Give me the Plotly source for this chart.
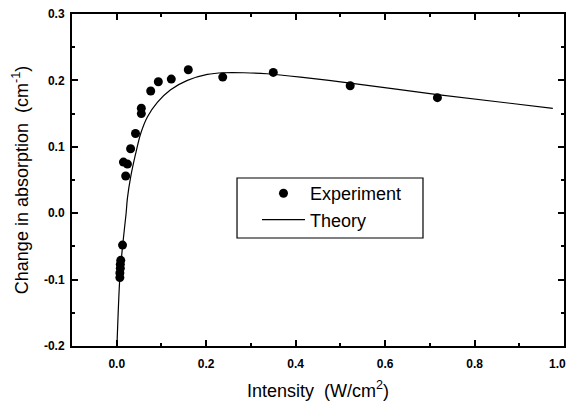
import plotly.graph_objects as go

# Experiment data (intensity W/cm^2, change in absorption cm^-1)
exp_x = [0.007, 0.007, 0.008, 0.008, 0.009, 0.013, 0.015, 0.020, 0.024, 0.031, 0.042,
         0.055, 0.055, 0.076, 0.093, 0.122, 0.160, 0.237, 0.350, 0.522, 0.717]
exp_y = [-0.097, -0.090, -0.083, -0.077, -0.071, -0.048, 0.077, 0.056, 0.074, 0.097, 0.120,
         0.158, 0.150, 0.184, 0.198, 0.202, 0.216, 0.205, 0.212, 0.192, 0.174]

# Theory curve
th_x = [0.0005, 0.0067, 0.013, 0.021, 0.0238, 0.0313, 0.0424, 0.0536, 0.0685, 0.0908,
        0.1205, 0.158, 0.2025, 0.2396, 0.284, 0.336, 0.411, 0.522, 0.717, 0.975]
th_y = [-0.200, -0.100, -0.050, 0.000, 0.022, 0.055, 0.090, 0.120, 0.145, 0.167,
        0.186, 0.200, 0.209, 0.2115, 0.2115, 0.210, 0.205, 0.196, 0.1785, 0.158]

x_ticks = [0.0, 0.2, 0.4, 0.6, 0.8, 1.0]
# the last label sits slightly left of its tick in the original, kept inside the page
x_tick_labels = ["0.0", "0.2", "0.4", "0.6", "0.8", "1.0\u00a0\u00a0\u00a0\u00a0"]
y_ticks = [-0.2, -0.1, 0.0, 0.1, 0.2, 0.3]
y_tick_labels = ["-0.2", "-0.1", "0.0", "0.1", "0.2", "0.3"]

FONT = "Liberation Sans, Arial, Helvetica, sans-serif"

fig = go.Figure()
fig.add_trace(go.Scatter(x=exp_x, y=exp_y, mode="markers", name="Experiment",
                         marker=dict(color="black", size=9, symbol="circle")))
fig.add_trace(go.Scatter(x=th_x, y=th_y, mode="lines", name="Theory",
                         line=dict(color="black", width=1.2, shape="spline", smoothing=0.8)))

axis_common = dict(showgrid=False, zeroline=False, showline=True, linecolor="black",
                   linewidth=2, mirror="ticks", ticks="inside", ticklen=6, tickwidth=1.5,
                   tickcolor="black", automargin=False, ticklabeloverflow="allow",
                   tickfont=dict(family=FONT, size=12, color="black", weight="bold"))

fig.update_xaxes(range=[-0.1, 1.0], tickvals=x_ticks, ticktext=x_tick_labels,
                 minor=dict(dtick=0.1, tick0=0, ticks="inside", ticklen=3, tickwidth=1.5,
                            tickcolor="black"),
                 ticklabelstandoff=6,
                 title=dict(text="Intensity  (W/cm<sup>2</sup>)", standoff=14,
                            font=dict(family=FONT, size=18, color="black")),
                 **axis_common)
fig.update_yaxes(range=[-0.2, 0.3], tickvals=y_ticks, ticktext=y_tick_labels,
                 minor=dict(dtick=0.05, tick0=0, ticks="inside", ticklen=3, tickwidth=1.5,
                            tickcolor="black"),
                 ticklabelstandoff=3,
                 title=dict(text="Change in absorption  (cm<sup>-1</sup>)", standoff=11,
                            font=dict(family=FONT, size=18, color="black")),
                 **axis_common)

# legend frame
fig.add_shape(type="rect", xref="paper", yref="paper",
              x0=0.3354, x1=0.7134, y0=0.3253, y1=0.506,
              line=dict(color="black", width=1.2), fillcolor="white", layer="below")

# The page body adds an 8px offset, so the figure is sized to fit the 574x401 window.
fig.update_layout(
    width=566, height=393,
    margin=dict(l=64, r=10, t=6, b=55, autoexpand=False),
    paper_bgcolor="white", plot_bgcolor="white",
    font=dict(family=FONT, color="black"),
    legend=dict(x=0.376, y=0.515, xanchor="left", yanchor="top",
                borderwidth=0, bgcolor="rgba(0,0,0,0)",
                font=dict(family=FONT, size=18, color="black"),
                itemwidth=43, tracegroupgap=0),
)

fig.write_html("out.html")
